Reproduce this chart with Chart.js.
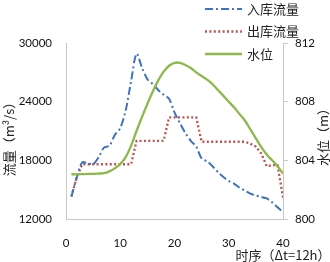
<!DOCTYPE html>
<html lang="zh">
<head>
    <meta charset="UTF-8">
    <title>入库流量 出库流量 水位</title>
    <script src="https://cdn.jsdelivr.net/npm/chart.js"></script>
    <style>
        html, body { margin: 0; padding: 0; background: #fff; }
        canvas { display: block; }
    </style>
</head>
<body>
<canvas id="flow-chart" width="330" height="262"></canvas>

<script>
    // time step index (Δt = 12h)
    const timeSteps = [1, 2, 3, 4, 5, 6, 7, 8, 9, 10, 11, 12, 13, 14, 15, 16, 17, 18, 19, 20,
        21, 22, 23, 24, 25, 26, 27, 28, 29, 30, 31, 32, 33, 34, 35, 36, 37, 38, 39, 40];

    // 入库流量 (m3/s)
    const inflow = [14300, 16300, 17800, 17700, 17600, 18300, 19300, 19500, 20600, 21300,
        23100, 26100, 28900, 27500, 26300, 25800, 25200, 24700, 24300, 22900,
        21800, 20800, 20000, 19400, 18200, 17900, 17400, 16800, 16300, 15900,
        15600, 15200, 14900, 14600, 14400, 14250, 14100, 13700, 13200, 12700];

    // 出库流量 (m3/s)
    const outflow = [14300, 16300, 17600, 17600, 17600, 17600, 17600, 17600, 17600, 17600,
        17600, 17600, 20000, 20000, 20000, 20000, 20000, 20000, 22400, 22400,
        22400, 22400, 22400, 22400, 19900, 19900, 19900, 19900, 19900, 19900,
        19900, 19900, 19900, 19700, 19400, 18700, 17400, 17500, 17500, 14200];

    // 水位 (m)
    const waterLevel = [803.05, 803.05, 803.06, 803.07, 803.08, 803.1, 803.12, 803.25, 803.45, 803.75,
        804.22, 805.0, 806.0, 806.95, 807.85, 808.7, 809.45, 810.05, 810.45, 810.65,
        810.65, 810.5, 810.3, 810.0, 809.75, 809.5, 809.2, 808.8, 808.4, 808.0,
        807.6, 807.15, 806.7, 806.1, 805.5, 804.9, 804.4, 804.0, 803.6, 803.1];

    const xTitle = '时序（Δt=12h）';
    const yLeftTitle = '流量（m³/s）';
    const yRightTitle = '水位（m）';

    const BLUE = '#3f73bd';
    const RED = '#c0504d';
    const GREEN = '#8db84a';
    const AXIS = '#c8c8c8';
    const CJK = '"Noto Sans CJK SC", sans-serif';

    const legendItems = [
        { text: '入库流量', color: BLUE, dash: [8, 3, 2, 3], width: 2 },
        { text: '出库流量', color: RED, dash: [2, 2.4], width: 2.3 },
        { text: '水位', color: GREEN, dash: [], width: 2.3 }
    ];

    function toPoints(values) {
        return timeSteps.map((t, i) => ({ x: t, y: values[i] }));
    }

    // titles and legend are drawn by hand so they can sit where the original has them
    const decorPlugin = {
        id: 'decor',
        afterDraw(chart) {
            const ctx = chart.ctx;
            ctx.save();
            ctx.fillStyle = '#222';
            ctx.textBaseline = 'middle';

            ctx.font = '13px ' + CJK;
            ctx.textAlign = 'center';
            ctx.fillText(xTitle, 283, 255);

            ctx.save();
            ctx.translate(9, 136);
            ctx.rotate(-Math.PI / 2);
            ctx.fillText(yLeftTitle, 0, 0);
            ctx.restore();

            ctx.save();
            ctx.translate(323, 134);
            ctx.rotate(-Math.PI / 2);
            ctx.fillText(yRightTitle, 0, 0);
            ctx.restore();

            ctx.textAlign = 'left';
            legendItems.forEach((item, i) => {
                const y = 9 + i * 22.5;
                ctx.beginPath();
                ctx.strokeStyle = item.color;
                ctx.lineWidth = item.width;
                ctx.setLineDash(item.dash);
                ctx.moveTo(205, y);
                ctx.lineTo(242, y);
                ctx.stroke();
                ctx.fillText(item.text, 247, y);
            });
            ctx.restore();
        }
    };

    const tickFont = { family: 'Lato, sans-serif', size: 11.5 };
    const plainTick = value => String(value);

    let elem = document.getElementById('flow-chart').getContext('2d');
    let chart = new Chart(elem, {
        type: 'line',
        data: {
            datasets: [
                {
                    label: '水位',
                    data: toPoints(waterLevel),
                    yAxisID: 'yRight',
                    borderColor: GREEN,
                    borderWidth: 2.3,
                    pointRadius: 0,
                    tension: 0.35,
                    order: 0
                },
                {
                    label: '入库流量',
                    data: toPoints(inflow),
                    yAxisID: 'yLeft',
                    borderColor: BLUE,
                    borderWidth: 2,
                    borderDash: [8, 3, 2, 3],
                    pointRadius: 0,
                    tension: 0.3,
                    order: 1
                },
                {
                    label: '出库流量',
                    data: toPoints(outflow),
                    yAxisID: 'yLeft',
                    borderColor: RED,
                    borderWidth: 2.3,
                    borderDash: [2, 2.4],
                    pointRadius: 0,
                    tension: 0,
                    order: 2
                }
            ]
        },
        options: {
            responsive: false,
            animation: false,
            devicePixelRatio: 1,
            layout: { padding: { top: 43, left: 0, right: 0, bottom: 0 } },
            plugins: {
                legend: { display: false },
                tooltip: { enabled: false }
            },
            scales: {
                x: {
                    type: 'linear',
                    min: 0,
                    max: 40,
                    ticks: { stepSize: 10, padding: 17, color: '#111', font: tickFont, callback: plainTick },
                    grid: { display: false, drawTicks: false },
                    border: { display: true, color: AXIS, width: 1 },
                    afterFit(scale) { scale.height = 43; }
                },
                yLeft: {
                    position: 'left',
                    min: 12000,
                    max: 30000,
                    ticks: { stepSize: 6000, padding: 14, color: '#111', font: tickFont, callback: plainTick },
                    grid: { display: false, drawTicks: false },
                    border: { display: true, color: AXIS, width: 1 },
                    afterFit(scale) { scale.width = 66; }
                },
                yRight: {
                    position: 'right',
                    min: 800,
                    max: 812,
                    ticks: { stepSize: 4, padding: 7, color: '#111', font: tickFont, callback: plainTick },
                    grid: { display: true, drawOnChartArea: false, drawTicks: true, tickLength: 5, color: AXIS },
                    border: { display: true, color: AXIS, width: 1 },
                    afterFit(scale) { scale.width = 47; }
                }
            }
        },
        plugins: [decorPlugin]
    });
</script>
</body>
</html>
